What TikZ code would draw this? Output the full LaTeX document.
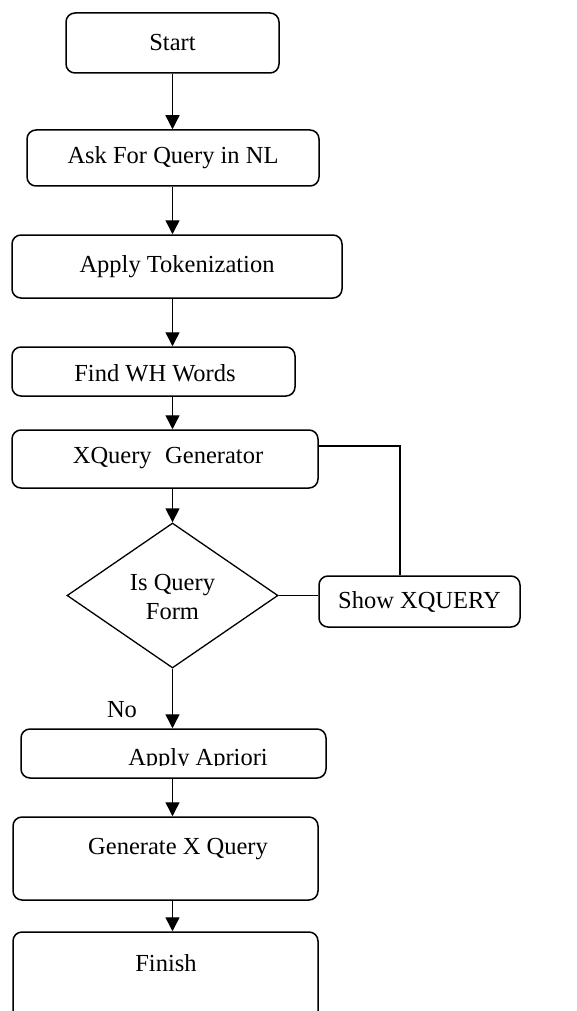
\documentclass[tikz,border=0pt]{standalone}
\usepackage{fontspec}
\setmainfont{Liberation Serif}
\usetikzlibrary{shapes.geometric,arrows.meta,calc}
\begin{document}
\begin{tikzpicture}[x=1pt,y=-1pt,
  box/.style={draw,line width=1.5pt,rounded corners=9pt,inner sep=0pt,anchor=center},
  lbl/.style={inner sep=0pt,font=\fontsize{24.5}{29}\selectfont,align=center},
  arr/.style={line width=1.4pt,-{Triangle[length=14pt,width=14pt]}},
  ln/.style={line width=1.4pt}]
\useasboundingbox (0,0) rectangle (576,1011);
\clip (0,0) rectangle (576,1011);
\coordinate (spine) at (172.5,0);
\coordinate (loopx) at (400,0);
% boxes
\node[box,lbl,minimum width=213pt,minimum height=60pt] (start) at (172.5,43) {Start};
\node[box,lbl,minimum width=292pt,minimum height=56pt] (ask) at (173,158) {Ask For Query in NL};
\node[box,lbl,minimum width=330pt,minimum height=63pt] (tok) at (177,266.5) {Apply Tokenization};
\node[box,minimum width=283pt,minimum height=49pt] (wh) at (153.5,371.5) {};
\node[lbl] (whT) at (155,373) {Find WH Words};
\node[box,minimum width=306pt,minimum height=58pt] (xq) at (165,459) {};
\node[lbl] (xqT) at (168,458) {XQuery\hspace{0.3em} Generator};
\node[draw,diamond,line width=1.3pt,inner sep=0pt,minimum width=211pt,minimum height=145pt] (dec) at (172.5,595.5) {};
\node[lbl] (decT) at (172.5,597) {Is Query\\Form};
\node[box,lbl,minimum width=201pt,minimum height=51pt] (show) at (419.5,601.5) {Show XQUERY};
\node[box,minimum width=305pt,minimum height=49pt] (apr) at (173.5,753.5) {};
\begin{scope}
\clip (apr.north west) rectangle (326,765);
\node[lbl,anchor=base] (aprT) at (198,765) {Apply Apriori};
\end{scope}
\node[box,minimum width=305pt,minimum height=83pt] (gen) at (165.5,858.5) {};
\node[lbl] (genT) at (178,849) {Generate X Query};
\node[box,minimum width=305pt,minimum height=110pt] (fin) at (165.5,987) {};
\node[lbl] (finT) at (166,963) {Finish};
\node[lbl] (no) at (122,710) {No};
% connectors
\draw[arr] (start.south -| spine) -- (ask.north -| spine);
\draw[arr] (ask.south -| spine) -- (tok.north -| spine);
\draw[arr] (tok.south -| spine) -- (wh.north -| spine);
\draw[arr] (wh.south -| spine) -- (xq.north -| spine);
\draw[arr] (xq.south -| spine) -- (dec.north);
\draw[arr] (dec.south) -- (apr.north -| spine);
\draw[arr] (apr.south -| spine) -- (gen.north -| spine);
\draw[arr] (gen.south -| spine) -- (fin.north -| spine);
\draw[ln] ($(xq.north east)!0.28!(xq.south east)$) -| (show.north -| loopx);
\draw[ln] (dec.east) -- (dec.east -| show.west);
\end{tikzpicture}
\end{document}
